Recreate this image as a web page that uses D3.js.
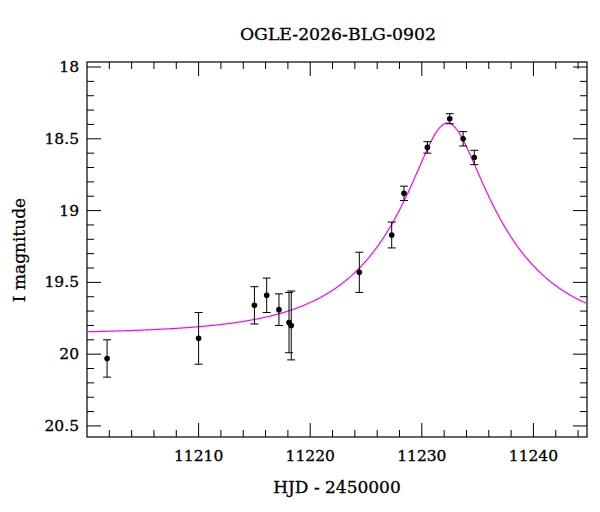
<!DOCTYPE html>
<html><head><meta charset="utf-8">
<script src="https://cdn.jsdelivr.net/npm/d3@7"></script>
<style>body{margin:0;background:#fff}</style></head>
<body><svg id="c" width="600" height="512"></svg>
<script>
const times = [11201.8,11210.0,11215.0,11216.1,11217.2,11218.1,11218.3,11224.4,11227.3,11228.4,11230.5,11232.5,11233.7,11234.7];
const mags  = [20.03,19.89,19.66,19.59,19.69,19.78,19.80,19.43,19.17,18.88,18.56,18.36,18.50,18.63];
const errs  = [0.13,0.18,0.13,0.12,0.11,0.21,0.24,0.14,0.09,0.05,0.04,0.035,0.05,0.05];
const modelParams = {t0:11232.3, tE:10.4, u0:0.265, base:19.86};
const xTicks = [11210,11220,11230,11240];
const yTicks = [18,18.5,19,19.5,20,20.5];

const L=87,R=587,T=62,B=437;
const x=d3.scaleLinear().domain([11200.0,11244.8]).range([L,R]);
const y=d3.scaleLinear().domain([17.965,20.577]).range([T,B]);
const svg=d3.select("#c");
const font="DejaVu Serif";
const g=svg.append("g").attr("stroke","#000").attr("stroke-width",1);
const xmin=d3.range(11202,11245,2), ymin=d3.range(18,20.58,0.1);
xmin.forEach(v=>{const maj=xTicks.some(t=>Math.abs(t-v)<1e-6);const l=maj?14:7;const px=x(v);
 g.append("line").attr("x1",px).attr("x2",px).attr("y1",B).attr("y2",B-l);
 g.append("line").attr("x1",px).attr("x2",px).attr("y1",T).attr("y2",T+l);});
ymin.forEach(v=>{const maj=yTicks.some(t=>Math.abs(t-v)<1e-6);const l=maj?14:7;const py=y(v);
 g.append("line").attr("y1",py).attr("y2",py).attr("x1",L).attr("x2",L+l);
 g.append("line").attr("y1",py).attr("y2",py).attr("x1",R).attr("x2",R-l);});
svg.append("rect").attr("x",L).attr("y",T).attr("width",R-L).attr("height",B-T).attr("fill","none").attr("stroke","#000").attr("stroke-width",1.2);
xTicks.forEach(v=>svg.append("text").attr("x",x(v)).attr("y",B+24).attr("text-anchor","middle").attr("font-family",font).attr("font-size",15.5).attr("stroke","#000").attr("stroke-width",0.3).text(v));
yTicks.forEach(v=>svg.append("text").attr("x",L-8).attr("y",y(v)+5).attr("text-anchor","end").attr("font-family",font).attr("font-size",15.5).attr("stroke","#000").attr("stroke-width",0.3).text(v));
svg.append("text").attr("x",338).attr("y",40).attr("text-anchor","middle").attr("font-family",font).attr("font-size",17.3).attr("stroke","#000").attr("stroke-width",0.3).text("OGLE-2026-BLG-0902");
svg.append("text").attr("x",337).attr("y",493).attr("text-anchor","middle").attr("font-family",font).attr("font-size",17).attr("stroke","#000").attr("stroke-width",0.3).text("HJD - 2450000");
svg.append("text").attr("transform","translate(25,250) rotate(-90)").attr("text-anchor","middle").attr("font-family",font).attr("font-size",17).attr("stroke","#000").attr("stroke-width",0.3).text("I magnitude");
const p=modelParams;
const ts=d3.range(11200.0,11244.81,0.05);
const mod=ts.map(t=>{const tau=(t-p.t0)/p.tE;const u=Math.sqrt(tau*tau+p.u0*p.u0);const A=(u*u+2)/(u*Math.sqrt(u*u+4));return [t,p.base-2.5*Math.log10(A)];});
svg.append("path").datum(mod).attr("fill","none").attr("stroke","#ff00ff").attr("stroke-width",1.2).attr("d",d3.line().x(d=>x(d[0])).y(d=>y(d[1])));
const dg=svg.append("g");
times.forEach((t,i)=>{const px=x(t);
 dg.append("line").attr("x1",px).attr("x2",px).attr("y1",y(mags[i]-errs[i])).attr("y2",y(mags[i]+errs[i])).attr("stroke","#000");
 [mags[i]-errs[i],mags[i]+errs[i]].forEach(m=>dg.append("line").attr("x1",px-4).attr("x2",px+4).attr("y1",y(m)).attr("y2",y(m)).attr("stroke","#000"));
 dg.append("circle").attr("cx",px).attr("cy",y(mags[i])).attr("r",2.8).attr("fill","#000");});
</script></body></html>
